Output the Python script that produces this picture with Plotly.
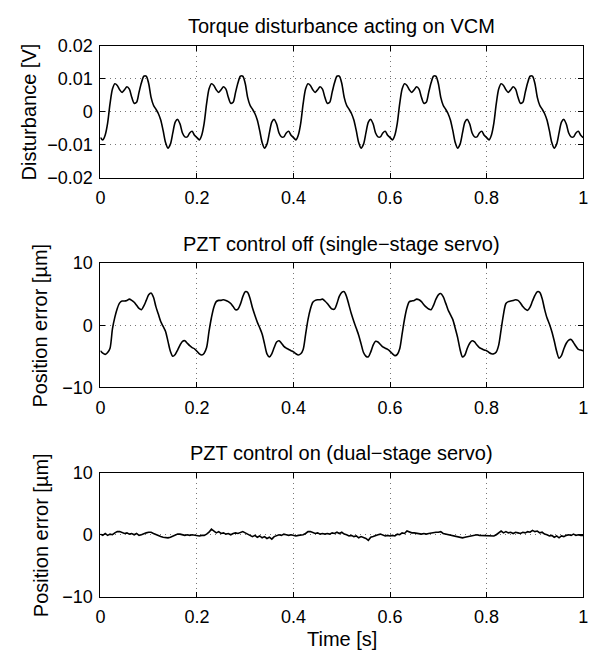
import plotly.graph_objects as go

# time axis (s), sample step 0.005
time_s = [round(i * 0.005, 3) for i in range(201)]

disturbance_v = [
    -0.0078, -0.0085, -0.0070, -0.0034, 0.0025, 0.0069, 0.0085, 0.0080, 0.0067, 0.0059,
    0.0067, 0.0076, 0.0069, 0.0044, 0.0026, 0.0029, 0.0059, 0.0088, 0.0108, 0.0108,
    0.0086, 0.0044, 0.0020, 0.0008, -0.0005, -0.0025, -0.0057, -0.0093, -0.0110, -0.0098,
    -0.0064, -0.0031, -0.0023, -0.0037, -0.0064, -0.0076, -0.0076, -0.0064, -0.0059, -0.0071,
    -0.0078, -0.0085, -0.0070, -0.0034, 0.0025, 0.0069, 0.0085, 0.0080, 0.0067, 0.0059,
    0.0067, 0.0076, 0.0069, 0.0044, 0.0026, 0.0029, 0.0059, 0.0088, 0.0108, 0.0108,
    0.0086, 0.0044, 0.0020, 0.0008, -0.0005, -0.0025, -0.0057, -0.0093, -0.0110, -0.0098,
    -0.0064, -0.0031, -0.0023, -0.0037, -0.0064, -0.0076, -0.0076, -0.0064, -0.0059, -0.0071,
    -0.0078, -0.0085, -0.0070, -0.0034, 0.0025, 0.0069, 0.0085, 0.0080, 0.0067, 0.0059,
    0.0067, 0.0076, 0.0069, 0.0044, 0.0026, 0.0029, 0.0059, 0.0088, 0.0108, 0.0108,
    0.0086, 0.0044, 0.0020, 0.0008, -0.0005, -0.0025, -0.0057, -0.0093, -0.0110, -0.0098,
    -0.0064, -0.0031, -0.0023, -0.0037, -0.0064, -0.0076, -0.0076, -0.0064, -0.0059, -0.0071,
    -0.0078, -0.0085, -0.0070, -0.0034, 0.0025, 0.0069, 0.0085, 0.0080, 0.0067, 0.0059,
    0.0067, 0.0076, 0.0069, 0.0044, 0.0026, 0.0029, 0.0059, 0.0088, 0.0108, 0.0108,
    0.0086, 0.0044, 0.0020, 0.0008, -0.0005, -0.0025, -0.0057, -0.0093, -0.0110, -0.0098,
    -0.0064, -0.0031, -0.0023, -0.0037, -0.0064, -0.0076, -0.0076, -0.0064, -0.0059, -0.0071,
    -0.0078, -0.0085, -0.0070, -0.0034, 0.0025, 0.0069, 0.0085, 0.0080, 0.0067, 0.0059,
    0.0067, 0.0076, 0.0069, 0.0044, 0.0026, 0.0029, 0.0059, 0.0088, 0.0108, 0.0108,
    0.0086, 0.0044, 0.0020, 0.0008, -0.0005, -0.0025, -0.0057, -0.0093, -0.0110, -0.0098,
    -0.0064, -0.0031, -0.0023, -0.0037, -0.0064, -0.0076, -0.0076, -0.0064, -0.0059, -0.0071,
    -0.0078,
]

error_off_um = [
    -4.1, -4.5, -4.7, -4.4, -3.7, -0.6, 1.3, 2.7, 3.6, 3.9,
    3.9, 4.0, 4.2, 4.0, 3.7, 3.2, 2.7, 2.5, 3.1, 4.0,
    4.9, 5.2, 4.5, 3.0, 1.8, 0.6, -0.2, -1.0, -2.6, -4.2,
    -5.0, -4.7, -4.0, -3.2, -2.6, -2.5, -2.9, -3.3, -3.6, -3.8,
    -4.2, -4.6, -4.8, -4.5, -3.6, -1.0, 1.2, 2.9, 3.8, 4.0,
    4.0, 4.1, 4.0, 3.8, 3.5, 3.0, 2.5, 2.6, 3.4, 4.6,
    5.4, 5.3, 4.3, 2.8, 1.6, 0.5, -0.4, -1.4, -3.0, -4.6,
    -5.1, -4.6, -3.6, -2.7, -2.5, -2.9, -3.4, -3.7, -3.9, -4.1,
    -4.3, -4.6, -4.8, -4.6, -3.9, -1.5, 0.9, 2.6, 3.7, 4.0,
    4.1, 4.1, 4.2, 3.9, 3.5, 3.0, 2.6, 2.6, 3.5, 4.7,
    5.3, 5.4, 4.6, 3.2, 1.8, 0.6, -0.5, -1.6, -3.0, -4.4,
    -5.0, -5.1, -4.3, -3.2, -2.6, -2.7, -3.1, -3.5, -3.7, -3.9,
    -4.2, -4.6, -4.9, -4.7, -3.8, -1.4, 1.0, 2.8, 3.8, 3.9,
    4.0, 4.2, 4.1, 3.8, 3.3, 2.9, 2.6, 2.5, 3.2, 4.2,
    4.9, 5.1, 4.6, 3.6, 2.5, 1.7, 0.9, -0.5, -2.0, -3.9,
    -5.1, -4.8, -3.7, -2.9, -2.5, -2.7, -3.2, -3.6, -3.8, -4.0,
    -4.1, -4.4, -4.6, -4.6, -4.3, -3.2, -0.7, 1.8, 3.5, 3.8,
    3.9, 4.0, 4.1, 4.0, 3.6, 3.0, 2.6, 2.4, 2.9, 3.9,
    4.8, 5.4, 5.3, 4.3, 2.6, 1.2, 0.2, -1.0, -2.5, -4.2,
    -5.3, -4.9, -3.8, -2.9, -2.4, -2.3, -2.8, -3.4, -3.9, -4.0,
    -4.1,
]

error_on_um = [
    0.1, -0.1, 0.2, -0.1, 0.1, 0.0, 0.3, 0.5, 0.5, 0.3,
    0.2, 0.3, 0.1, 0.2, 0.0, 0.2, -0.1, 0.0, 0.2, 0.3,
    0.4, 0.4, 0.2, 0.0, -0.2, -0.3, -0.4, -0.5, -0.5, -0.4,
    -0.2, 0.0, 0.1, 0.1, 0.0, -0.1, 0.0, -0.1, 0.0, -0.1,
    -0.1, -0.2, -0.1, -0.1, 0.1, 0.4, 0.9, 0.6, 0.3, 0.5,
    0.2, 0.3, 0.1, 0.2, 0.0, 0.2, 0.3, 0.2, 0.4, 0.5,
    0.3, 0.1, -0.1, -0.3, -0.1, -0.4, -0.2, -0.5, -0.3, -0.6,
    -0.4, -0.7, -0.3, -0.2, 0.0, -0.1, 0.1, 0.0, -0.1, 0.0,
    -0.1, -0.2, -0.1, -0.1, 0.0, 0.2, 0.5, 0.5, 0.3, 0.2,
    0.3, 0.1, 0.2, 0.1, 0.2, 0.1, 0.3, 0.2, 0.4, 0.2,
    0.4, 0.1, 0.0, -0.2, -0.1, -0.3, -0.2, -0.5, -0.3, -0.4,
    -0.6, -0.9, -0.4, -0.3, -0.1, 0.0, 0.1, -0.1, -0.2, -0.1,
    -0.2, -0.1, -0.2, 0.1, 0.0, 0.3, 0.2, 0.6, 0.4, 0.3,
    0.3, 0.2, 0.2, 0.1, 0.2, 0.1, 0.2, 0.3, 0.3, 0.4,
    0.4, 0.5, 0.2, 0.1, 0.0, -0.1, -0.2, -0.3, -0.4, -0.5,
    -0.5, -0.4, -0.3, -0.2, -0.1, 0.0, 0.0, -0.1, -0.1, -0.1,
    -0.1, -0.2, -0.1, -0.2, 0.0, 0.3, 0.6, 0.3, 0.5, 0.3,
    0.4, 0.2, 0.4, 0.3, 0.2, 0.4, 0.3, 0.5, 0.4, 0.7,
    0.5, 0.6, 0.3, 0.4, 0.1, 0.0, -0.2, -0.1, -0.4, -0.2,
    -0.5, -0.2, -0.3, -0.1, 0.0, -0.1, 0.1, -0.1, 0.0, -0.1,
    -0.1,
]

titles = [
    "Torque disturbance acting on VCM",
    "PZT control off (single\u2212stage servo)",
    "PZT control on (dual\u2212stage servo)",
]
y_titles = ["Disturbance [V]", "Position error [\u00b5m]", "Position error [\u00b5m]"]
x_title = "Time [s]"
x_ticks = [0, 0.2, 0.4, 0.6, 0.8, 1]
y_ticks_1 = [-0.02, -0.01, 0, 0.01, 0.02]
y_ticks_23 = [-10, 0, 10]

W, H = 599, 665
FONT = "Liberation Sans, Arial, Helvetica, sans-serif"
LEFT, RIGHT = 97, 588
panels_px = [(37, 173), (261, 389), (477, 605)]
ylabel_x = [24, 36, 36]

fig = go.Figure()
series = [disturbance_v, error_off_um, error_on_um]
shapes = ["spline", "spline", "linear"]
for i, ys in enumerate(series):
    sfx = "" if i == 0 else str(i + 1)
    fig.add_trace(go.Scatter(
        x=time_s, y=ys, mode="lines",
        line=dict(color="black", width=1.6, shape=shapes[i], smoothing=0.8),
        xaxis="x" + sfx, yaxis="y" + sfx, showlegend=False, hoverinfo="skip",
    ))

axis_common = dict(
    showline=True, linecolor="black", linewidth=1, mirror="allticks",
    ticks="inside", ticklen=5, tickcolor="black", tickwidth=1,
    showgrid=True, gridcolor="#777777", griddash="1px,4px", gridwidth=1,
    zeroline=False, tickfont=dict(family=FONT, size=18, color="black"),
)

layout = dict(
    width=W, height=H, margin=dict(l=0, r=0, t=0, b=0),
    paper_bgcolor="white", plot_bgcolor="white",
    font=dict(family=FONT, size=18, color="black"),
)
annotations = []
for i, (top, bot) in enumerate(panels_px):
    sfx = "" if i == 0 else str(i + 1)
    ydom = [1 - bot / H, 1 - top / H]
    layout["xaxis" + sfx] = dict(
        axis_common, domain=[LEFT / W, RIGHT / W], range=[0, 1],
        tickvals=x_ticks, anchor="y" + sfx, ticklabelstandoff=4,
    )
    if i == 0:
        yax = dict(axis_common, domain=ydom, range=[-0.02, 0.02], tickvals=y_ticks_1,
                   anchor="x" + sfx, ticklabelstandoff=3)
    else:
        yax = dict(axis_common, domain=ydom, range=[-10, 10], tickvals=y_ticks_23,
                   anchor="x" + sfx, ticklabelstandoff=3)
    layout["yaxis" + sfx] = yax
    annotations.append(dict(
        text=titles[i], x=(LEFT + RIGHT) / 2 / W, y=1 - (top - 20) / H,
        xref="paper", yref="paper", xanchor="center", yanchor="middle",
        showarrow=False, font=dict(family=FONT, size=20, color="black"),
    ))
    annotations.append(dict(
        text=y_titles[i], x=ylabel_x[i] / W, y=1 - (top + bot) / 2 / H,
        xref="paper", yref="paper", xanchor="center", yanchor="middle",
        textangle=-90, showarrow=False, font=dict(family=FONT, size=20, color="black"),
    ))
annotations.append(dict(
    text=x_title, x=(LEFT + RIGHT) / 2 / W, y=1 - 649 / H,
    xref="paper", yref="paper", xanchor="center", yanchor="middle",
    showarrow=False, font=dict(family=FONT, size=20, color="black"),
))
layout["annotations"] = annotations
fig.update_layout(**layout)

fig.write_html("out.html")
